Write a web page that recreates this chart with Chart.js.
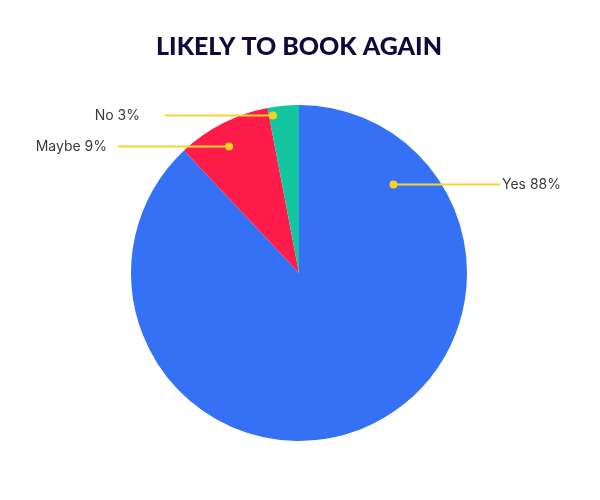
<!DOCTYPE html>
<html>
<head>
<meta charset="utf-8">
<script src="https://cdn.jsdelivr.net/npm/chart.js@4.4.1/dist/chart.umd.min.js"></script>
<style>
  html, body { margin: 0; padding: 0; background: #ffffff; }
  #wrap { width: 600px; height: 500px; }
</style>
</head>
<body>
<div id="wrap"><canvas id="pieChart" width="600" height="500"></canvas></div>
<script>
// datos del grafico
const categorias = ["Yes", "Maybe", "No"];
const valores = [88, 9, 3];
const colores = ["#3471f4", "#fe1c4a", "#13c6a0"];

// donde va cada etiqueta (fraccion dentro de la rebanada, radio relativo, fin de linea, texto)
const etiquetasLayout = [
    { frac: 0.148, rFrac: 0.77, lineX: 500, textX: 502, align: "left" },
    { frac: 0.44, rFrac: 0.86, lineX: 118, textX: 107, align: "right" },
    { frac: 0.13, rFrac: 0.95, lineX: 165, textX: 140, align: "right" }
];

const etiquetasPlugin = {
    id: "etiquetas",
    afterDatasetsDraw(chart) {
        const ctx = chart.ctx;
        const arcs = chart.getDatasetMeta(0).data;
        ctx.save();
        arcs.forEach((arc, i) => {
            const cfg = etiquetasLayout[i];
            const a = arc.startAngle + (arc.endAngle - arc.startAngle) * cfg.frac;
            const r = arc.outerRadius * cfg.rFrac;
            const px = arc.x + Math.cos(a) * r;
            const py = arc.y + Math.sin(a) * r;

            // linea guia
            ctx.strokeStyle = "#f6d533";
            ctx.lineWidth = 2;
            ctx.beginPath();
            ctx.moveTo(px, py);
            ctx.lineTo(cfg.lineX, py);
            ctx.stroke();

            // punto
            ctx.fillStyle = "#f6d21f";
            ctx.beginPath();
            ctx.arc(px, py, 4, 0, Math.PI * 2);
            ctx.fill();

            // texto
            ctx.fillStyle = "#3a3a3a";
            ctx.font = "14px Inter, sans-serif";
            ctx.textAlign = cfg.align;
            ctx.textBaseline = "middle";
            ctx.fillText(categorias[i] + " " + valores[i] + "%", cfg.textX, py);
        });
        ctx.restore();
    }
};

const ctxPie = document.getElementById("pieChart").getContext("2d");
const pieChart = new Chart(ctxPie, {
    type: "pie",
    data: {
        labels: categorias,
        datasets: [{
            data: valores,
            backgroundColor: colores,
            borderWidth: 0
        }]
    },
    options: {
        responsive: false,
        animation: false,
        layout: {
            padding: { top: 0, bottom: 59, left: 131, right: 133 }
        },
        plugins: {
            legend: { display: false },
            tooltip: { enabled: false },
            title: {
                display: true,
                text: "LIKELY TO BOOK AGAIN",
                color: "#0e0b3a",
                font: { family: "Lato", size: 25, weight: "900" },
                padding: { top: 32, bottom: 43 }
            }
        }
    },
    plugins: [etiquetasPlugin]
});
</script>
</body>
</html>
